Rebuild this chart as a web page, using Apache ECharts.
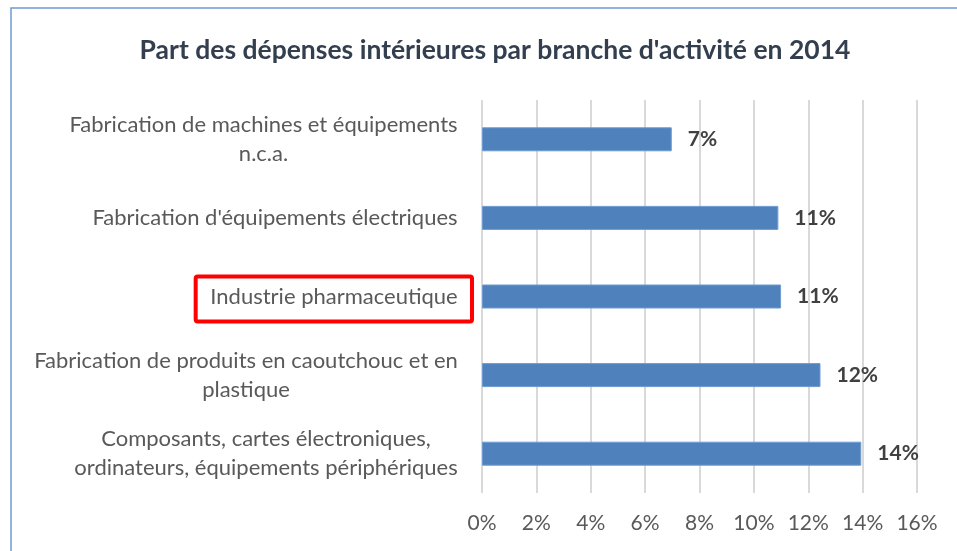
<!DOCTYPE html>
<html>
<head>
<meta charset="utf-8">
<script src="https://cdn.jsdelivr.net/npm/echarts@6/dist/echarts.min.js"></script>
<style>
html,body{margin:0;padding:0;background:#fff;}
#chart{width:957px;height:551px;}
</style>
</head>
<body>
<div id="chart"></div>
<script>
// ---- Data ----
var titleText = "Part des dépenses intérieures par branche d'activité en 2014";
var categories = [
  "Fabrication de machines et équipements\nn.c.a.",
  "Fabrication d'équipements électriques",
  "Industrie pharmaceutique",
  "Fabrication de produits en caoutchouc et en\nplastique",
  "Composants, cartes électroniques,\nordinateurs, équipements périphériques"
];
var values = [6.98, 10.9, 11.0, 12.45, 13.95];
var valueLabels = ["7%", "11%", "11%", "12%", "14%"];
var xTicks = [0, 2, 4, 6, 8, 10, 12, 14, 16];
var highlighted = "Industrie pharmaceutique";

// ---- Style ----
var FONT = "Lato";
var labelSize = 22;
var labelColor = "#595959";
var gridLeft = 482, gridRight = 40, gridTop = 100, gridBottom = 58;
var labelMargin = 23;

var ctx = document.createElement('canvas').getContext('2d');
ctx.font = labelSize + 'px ' + FONT;
function blockWidth(s){
  return Math.max.apply(null, s.split('\n').map(function(l){return ctx.measureText(l).width;}));
}
var rich = {};
categories.forEach(function(c, i){
  rich['c' + i] = {
    width: Math.ceil(blockWidth(c)) + 2,
    align: 'center',
    fontSize: labelSize,
    fontFamily: FONT,
    color: labelColor,
    lineHeight: 29
  };
});

var chart = echarts.init(document.getElementById('chart'), null, {renderer: 'canvas'});
var option = {
  backgroundColor: '#ffffff',
  animation: false,
  title: {
    text: titleText,
    left: 490,
    textAlign: 'center',
    top: 32,
    textStyle: {fontFamily: FONT, fontWeight: 'bold', fontSize: 26.5, color: '#333f4f'}
  },
  grid: {left: gridLeft, right: gridRight, top: gridTop, bottom: gridBottom, containLabel: false},
  xAxis: {
    type: 'value',
    min: 0, max: 16, interval: 2,
    axisLine: {show: false},
    axisTick: {show: false},
    splitLine: {show: true, lineStyle: {color: '#d9d9d9', width: 2}},
    axisLabel: {
      margin: 20,
      fontFamily: FONT, fontSize: 21, color: labelColor,
      formatter: function(v){ return xTicks.indexOf(v) >= 0 ? v + '%' : ''; }
    }
  },
  yAxis: {
    type: 'category',
    data: categories,
    inverse: true,
    axisLine: {show: false},
    axisTick: {show: false},
    axisLabel: {
      margin: labelMargin,
      formatter: function(v){
        var i = categories.indexOf(v);
        return v.split('\n').map(function(l){ return '{c' + i + '|' + l + '}'; }).join('\n');
      },
      rich: rich
    }
  },
  series: [{
    type: 'bar',
    data: values,
    barWidth: 24,
    itemStyle: {color: '#4f81bd', borderColor: '#6d9bd1', borderWidth: 1},
    label: {
      show: true,
      position: 'right',
      distance: 16,
      fontFamily: FONT, fontWeight: 'bold', fontSize: 21, color: '#404040',
      formatter: function(p){ return valueLabels[p.dataIndex]; }
    }
  }]
};
chart.setOption(option);

// frame and highlight box
var hy = chart.convertToPixel({yAxisIndex: 0}, highlighted);
var hw = blockWidth(highlighted);
var right = gridLeft - labelMargin + 13;
var left = gridLeft - labelMargin - hw - 16;
chart.setOption({
  graphic: [
    {type: 'rect', shape: {x: 11, y: 8, width: 1000, height: 600},
     style: {fill: 'none', stroke: '#6f9bd6', lineWidth: 1.5}, silent: true},
    {type: 'rect', shape: {x: left, y: hy - 20, width: right - left, height: 45, r: 2},
     style: {fill: 'none', stroke: '#ff0000', lineWidth: 4}, silent: true}
  ]
});
</script>
</body>
</html>
